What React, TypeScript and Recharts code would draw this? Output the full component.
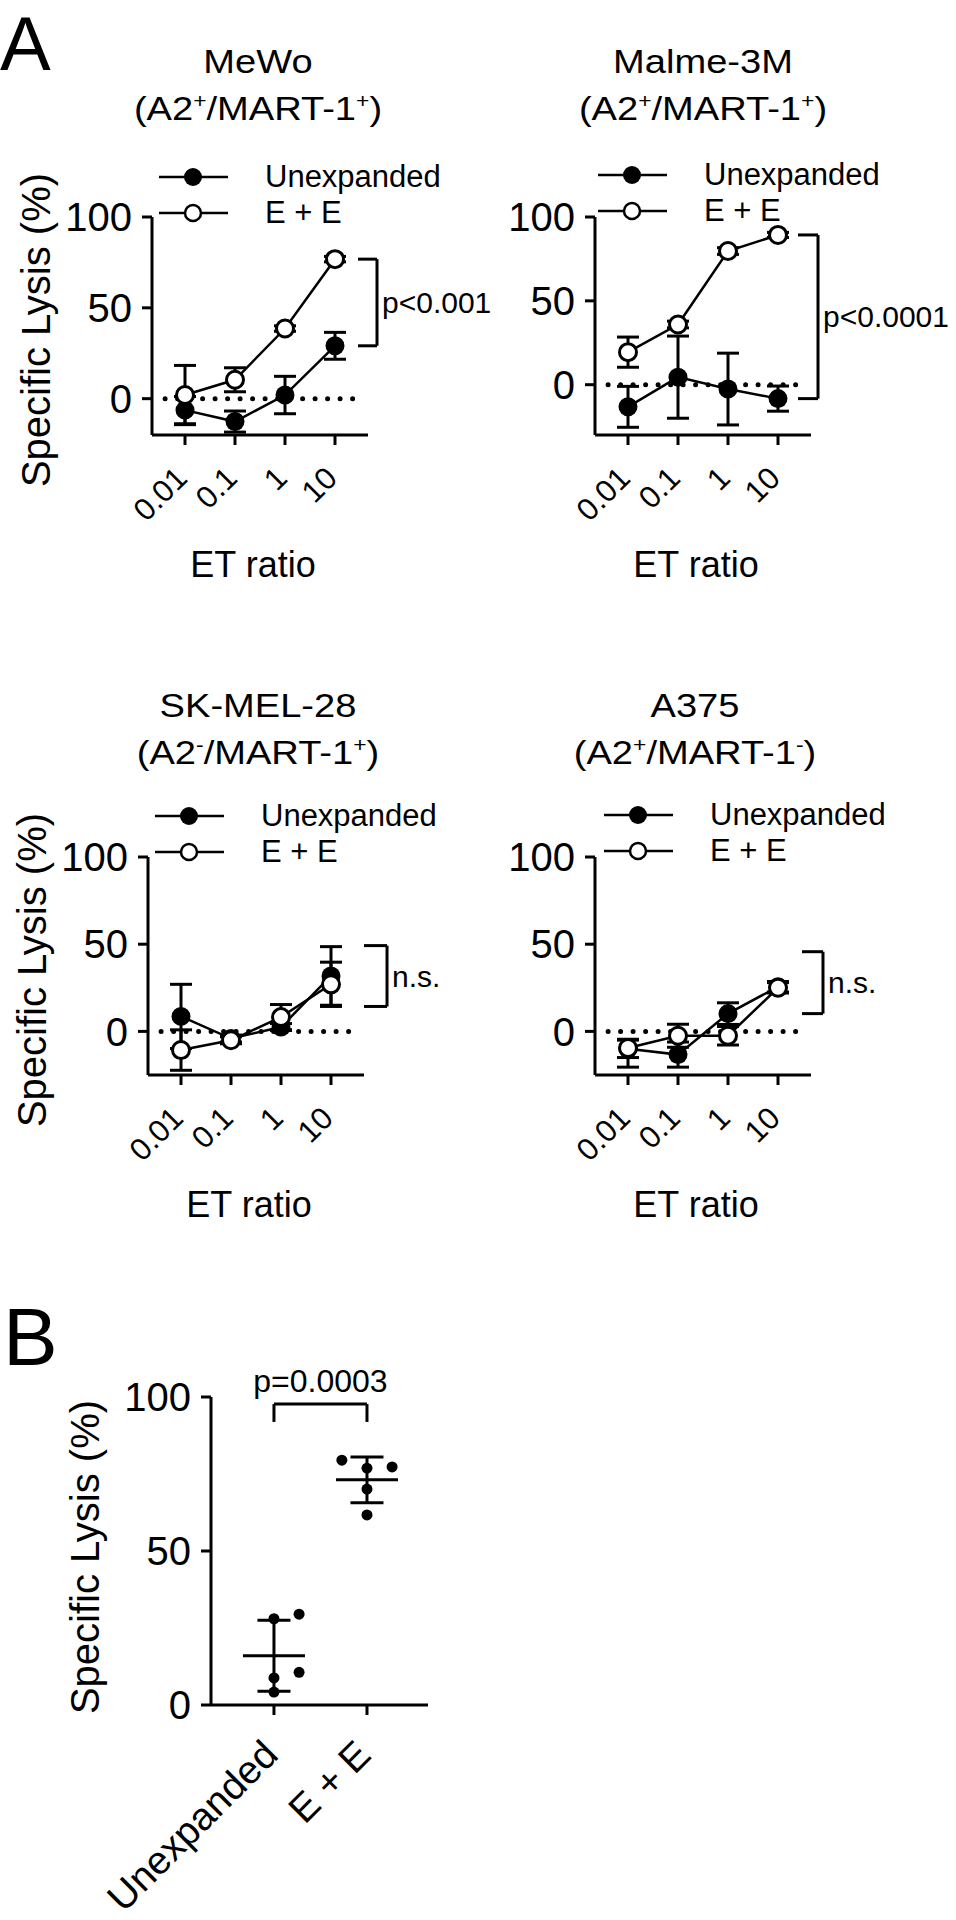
import React from "react";
import {
  LineChart,
  Line,
  XAxis,
  YAxis,
  ErrorBar,
  ReferenceLine,
  Legend,
  ScatterChart,
  Scatter,
} from "recharts";

const FONT = '"Liberation Sans", Arial, Helvetica, sans-serif';
const INK = "#000";

// ---- data ----
const etRatios = [0.01, 0.1, 1, 10];
const seriesNames = ["Unexpanded", "E + E"];

// MeWo
const meWoUnexp = [-6.3, -12.6, 2.0, 29.1];
const meWoUnexpErr = [7.5, 5.8, 10.3, 7.4];
const meWoEE = [2.0, 10.4, 38.6, 76.8];
const meWoEEErr = [16.3, 6.6, 1.5, 1.5];

// Malme-3M
const malmeUnexp = [-13.2, 4.5, -2.6, -8.3];
const malmeUnexpErr = [12.2, 24.5, 21.4, 7.5];
const malmeEE = [19.4, 35.9, 79.7, 89.3];
const malmeEEErr = [9.0, 2.0, 2.0, 1.5];

// SK-MEL-28
const skmelUnexp = [8.6, -4.1, 2.5, 31.8];
const skmelUnexpErr = [18.4, 2.0, 2.0, 16.8];
const skmelEE = [-10.7, -5.1, 8.2, 27.0];
const skmelEEErr = [11.6, 2.0, 7.2, 12.7];

// A375
const a375Unexp = [-10.0, -13.3, 10.2, 25.6];
const a375UnexpErr = [5.0, 7.2, 6.2, 3.0];
const a375EE = [-9.5, -2.5, -2.5, 25.0];
const a375EEErr: (number | number[])[] = [[11, 5], 6.6, 5.3, 3.0];

const bracketTop = [76.8, 89.3, 49.2, 45.7];
const bracketBottom = [29.1, -8.3, 14.3, 10.2];
const pTexts = ["p<0.001", "p<0.0001", "n.s.", "n.s."];

// panel B
const groups = ["Unexpanded", "E + E"];
const unexpLysis = [28.0, 29.5, 8.8, 10.6, 4.2];
const unexpJitter = [0, 0.27, 0, 0.27, 0];
const eeLysis = [79.5, 76.9, 77.3, 70.1, 61.7];
const eeJitter = [-0.27, 0, 0.27, 0, 0];
const groupMean = [16.0, 73.1];
const groupSD = [11.5, 7.4];
const bracketB = [97.7, 91.9];
const pB = "p=0.0003";

// ---- layout ----
const xDomain = [Math.pow(10, -2.66), Math.pow(10, 1.66)];

const panels = [
  {
    title: "MeWo", a2: "+", mart: "+", yMin: -20, yTitle: true,
    unexp: meWoUnexp, unexpErr: meWoUnexpErr, ee: meWoEE, eeErr: meWoEEErr,
    left: 0, top: 0, titleX: 258, titleTop: 38, legendLeft: 159, legendTop: 159,
    bracketX: [28.8, 69.2],
  },
  {
    title: "Malme-3M", a2: "+", mart: "+", yMin: -30, yTitle: false,
    unexp: malmeUnexp, unexpErr: malmeUnexpErr, ee: malmeEE, eeErr: malmeEEErr,
    left: 443, top: 0, titleX: 703, titleTop: 38, legendLeft: 155, legendTop: 157,
    bracketX: [25.1, 63.1],
  },
  {
    title: "SK-MEL-28", a2: "-", mart: "+", yMin: -25, yTitle: true,
    unexp: skmelUnexp, unexpErr: skmelUnexpErr, ee: skmelEE, eeErr: skmelEEErr,
    left: -4, top: 640, titleX: 258, titleTop: 682, legendLeft: 159, legendTop: 158,
    bracketX: [45.7, 132],
  },
  {
    title: "A375", a2: "+", mart: "-", yMin: -25, yTitle: false,
    unexp: a375Unexp, unexpErr: a375UnexpErr, ee: a375EE, eeErr: a375EEErr,
    left: 443, top: 640, titleX: 695, titleTop: 682, legendLeft: 161, legendTop: 157,
    bracketX: [30.2, 79.4],
  },
];

const axisStroke = { stroke: INK, strokeWidth: 3 };

function Sup({ children }: { children: React.ReactNode }) {
  return (
    <span style={{ fontSize: "0.6em", verticalAlign: "0.6em", lineHeight: 0 }}>{children}</span>
  );
}

function SeriesLegend(props: any) {
  const items = [...(props.payload || [])].sort(
    (a: any, b: any) => seriesNames.indexOf(a.value) - seriesNames.indexOf(b.value)
  );
  return (
    <div style={{ fontFamily: FONT, color: INK }}>
      {items.map((entry: any) => {
        const open = entry.value === "E + E";
        return (
          <div key={entry.value} style={{ display: "flex", alignItems: "center", height: 36 }}>
            <svg width={106} height={24} style={{ display: "block", flex: "none" }}>
              <line x1={0} x2={69} y1={12} y2={12} stroke={INK} strokeWidth={2.5} />
              {open ? (
                <circle cx={34} cy={12} r={8} fill="#fff" stroke={INK} strokeWidth={2.5} />
              ) : (
                <circle cx={34} cy={12} r={9} fill={INK} />
              )}
            </svg>
            <span style={{ fontSize: 31, lineHeight: "36px", whiteSpace: "nowrap" }}>{entry.value}</span>
          </div>
        );
      })}
    </div>
  );
}

function RatioTick({ x, y, payload }: any) {
  const ax = x + 4;
  const ay = y + 35;
  return (
    <text x={ax} y={ay} transform={`rotate(-45 ${ax} ${ay})`} textAnchor="end"
      fill={INK} fontSize={31} fontFamily={FONT}>
      {String(payload.value)}
    </text>
  );
}

function GroupTick({ x, y, payload }: any) {
  const ax = x + 6;
  const ay = y + 42;
  return (
    <text x={ax} y={ay} transform={`rotate(-45 ${ax} ${ay})`} textAnchor="end"
      fill={INK} fontSize={39} fontFamily={FONT}>
      {groups[payload.value]}
    </text>
  );
}

const yTitle = (dx: number, dy: number) => (lp: any) => {
  const vb = lp.viewBox;
  const cx = vb.x + vb.width + dx;
  const cy = vb.y + vb.height / 2 + dy;
  return (
    <text x={cx} y={cy} transform={`rotate(-90 ${cx} ${cy})`} textAnchor="middle"
      fill={INK} fontSize={40} fontFamily={FONT}>
      Specific Lysis (%)
    </text>
  );
};

const etTitle = (lp: any) => {
  const vb = lp.viewBox;
  return (
    <text x={vb.x + 101} y={vb.y + 142} textAnchor="middle" fill={INK} fontSize={36} fontFamily={FONT}>
      ET ratio
    </text>
  );
};

const filledDot = (p: any) => (
  <circle key={`u${p.index}`} cx={p.cx} cy={p.cy} r={9.5} fill={INK} />
);
const openDot = (p: any) => (
  <circle key={`e${p.index}`} cx={p.cx} cy={p.cy} r={8.5} fill="#fff" stroke={INK} strokeWidth={3} />
);

function LysisPanel({ cfg, idx }: { cfg: (typeof panels)[number]; idx: number }) {
  const rows = etRatios.map((ratio, i) => ({
    ratio,
    u: cfg.unexp[i],
    uErr: cfg.unexpErr[i],
    e: cfg.ee[i],
    eErr: cfg.eeErr[i],
  }));
  const [bx1, bx2] = cfg.bracketX;
  const bt = bracketTop[idx];
  const bb = bracketBottom[idx];
  return (
    <>
      <div style={{ position: "absolute", left: cfg.titleX - 200, top: cfg.titleTop, width: 400,
        textAlign: "center", fontSize: 34, lineHeight: "47px", fontFamily: FONT, color: INK,
        transform: "scaleX(1.12)", transformOrigin: "center" }}>
        {cfg.title}
        <br />
        (A2<Sup>{cfg.a2}</Sup>/MART-1<Sup>{cfg.mart}</Sup>)
      </div>
      <div style={{ position: "absolute", left: cfg.left, top: cfg.top }}>
        <LineChart width={513} height={600} data={rows}
          margin={{ top: 217, right: 145, bottom: 105, left: 92 }}>
          <XAxis type="number" dataKey="ratio" scale="log" domain={xDomain} ticks={etRatios}
            allowDataOverflow interval={0} height={60} tickSize={10} tickMargin={0}
            axisLine={axisStroke} tickLine={axisStroke}
            tick={(p: any) => <RatioTick {...p} />}
            label={{ content: etTitle }} />
          <YAxis type="number" domain={[cfg.yMin, 100]} ticks={[0, 50, 100]} allowDataOverflow
            width={60} tickSize={10} tickMargin={10} axisLine={axisStroke} tickLine={axisStroke}
            tick={{ fill: INK, fontSize: 40, fontFamily: FONT }}
            label={cfg.yTitle ? { content: yTitle(-102, 4) } : undefined} />
          <ReferenceLine segment={[{ x: 0.004, y: 0 }, { x: 37, y: 0 }]} stroke={INK}
            strokeWidth={5} strokeDasharray="0 12.5" strokeLinecap="round" ifOverflow="visible" />
          <ReferenceLine segment={[{ x: bx1, y: bt }, { x: bx2, y: bt }]} stroke={INK}
            strokeWidth={3} ifOverflow="visible" />
          <ReferenceLine segment={[{ x: bx1, y: bb }, { x: bx2, y: bb }]} stroke={INK}
            strokeWidth={3} ifOverflow="visible" />
          <ReferenceLine segment={[{ x: bx2, y: bt }, { x: bx2, y: bb }]} stroke={INK}
            strokeWidth={3} ifOverflow="visible"
            label={{ value: pTexts[idx], position: "right", offset: 5, fill: INK, fontSize: 30, fontFamily: FONT }} />
          <Line type="linear" dataKey="u" name={seriesNames[0]} stroke={INK} strokeWidth={2.5}
            dot={filledDot} activeDot={false} isAnimationActive={false}>
            <ErrorBar dataKey="uErr" direction="y" width={11} stroke={INK} strokeWidth={3} />
          </Line>
          <Line type="linear" dataKey="e" name={seriesNames[1]} stroke={INK} strokeWidth={2.5}
            dot={openDot} activeDot={false} isAnimationActive={false}>
            <ErrorBar dataKey="eErr" direction="y" width={11} stroke={INK} strokeWidth={3} />
          </Line>
          <Legend layout="vertical" align="center" verticalAlign="middle"
            content={(p: any) => <SeriesLegend {...p} />}
            wrapperStyle={{ left: cfg.legendLeft, top: cfg.legendTop, width: 330 }} />
        </LineChart>
      </div>
    </>
  );
}

function PanelB() {
  const unexpPts = unexpLysis.map((y, i) => ({ x: 0 + unexpJitter[i], y }));
  const eePts = eeLysis.map((y, i) => ({ x: 1 + eeJitter[i], y }));
  const means = groupMean.map((y, i) => ({ x: i, y, sd: groupSD[i] }));
  const [bTop, bEnd] = bracketB;
  const dot = (p: any) => <circle cx={p.cx} cy={p.cy} r={5.5} fill={INK} />;
  const meanBar = (p: any) => (
    <line x1={p.cx - 31} x2={p.cx + 31} y1={p.cy} y2={p.cy} stroke={INK} strokeWidth={3} />
  );
  return (
    <div style={{ position: "absolute", left: 0, top: 1250 }}>
      <ScatterChart width={478} height={670} margin={{ top: 147, right: 50, bottom: 65, left: 151 }}>
        <XAxis type="number" dataKey="x" domain={[-0.677, 1.656]} ticks={[0, 1]} allowDataOverflow
          interval={0} height={150} tickSize={10} tickMargin={0}
          axisLine={axisStroke} tickLine={axisStroke}
          tick={(p: any) => <GroupTick {...p} />} />
        <YAxis type="number" dataKey="y" domain={[0, 100]} ticks={[0, 50, 100]} allowDataOverflow
          width={60} tickSize={10} tickMargin={10} axisLine={axisStroke} tickLine={axisStroke}
          tick={{ fill: INK, fontSize: 40, fontFamily: FONT }}
          label={{ content: yTitle(-112, 6) }} />
        <ReferenceLine segment={[{ x: 0, y: bTop }, { x: 1, y: bTop }]} stroke={INK} strokeWidth={3}
          ifOverflow="visible"
          label={{ value: pB, position: "top", offset: 12, fill: INK, fontSize: 32, fontFamily: FONT }} />
        <ReferenceLine segment={[{ x: 0, y: bTop }, { x: 0, y: bEnd }]} stroke={INK} strokeWidth={3}
          ifOverflow="visible" />
        <ReferenceLine segment={[{ x: 1, y: bTop }, { x: 1, y: bEnd }]} stroke={INK} strokeWidth={3}
          ifOverflow="visible" />
        <Scatter name="Unexpanded" data={unexpPts} shape={dot} isAnimationActive={false} />
        <Scatter name="E + E" data={eePts} shape={dot} isAnimationActive={false} />
        <Scatter name="mean" data={means} shape={meanBar} isAnimationActive={false}>
          <ErrorBar dataKey="sd" direction="y" width={16.5} stroke={INK} strokeWidth={3} />
        </Scatter>
      </ScatterChart>
    </div>
  );
}

export default function App() {
  return (
    <div style={{ position: "absolute", left: 0, top: 0, width: 956, height: 1920,
      background: "#fff", fontFamily: FONT, color: INK, overflow: "hidden" }}>
      <div style={{ position: "absolute", left: 0, top: 0, fontSize: 76, lineHeight: "88px" }}>A</div>
      <div style={{ position: "absolute", left: 3, top: 1290, fontSize: 82, lineHeight: "94px" }}>B</div>
      {panels.map((cfg, i) => (
        <LysisPanel key={cfg.title} cfg={cfg} idx={i} />
      ))}
      <PanelB />
    </div>
  );
}
